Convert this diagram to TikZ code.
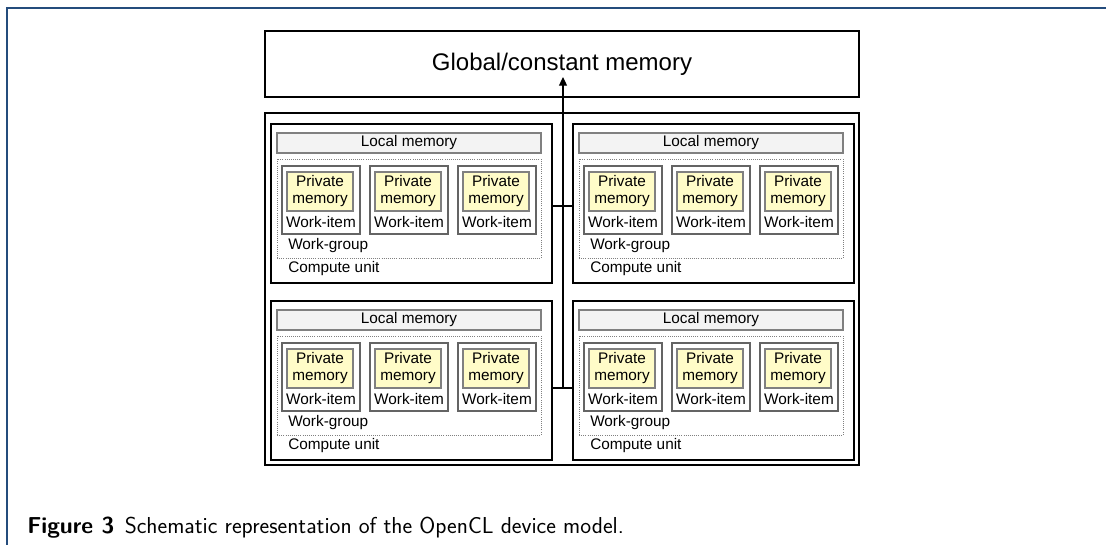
\documentclass[tikz,border=0pt]{standalone}
\usepackage{fontspec}
\newfontfamily\arial{Liberation Sans}
\usetikzlibrary{arrows.meta}
\definecolor{frameblue}{RGB}{36,76,124}
\definecolor{pmfill}{RGB}{255,252,200}
\definecolor{lmfill}{RGB}{243,243,243}
\definecolor{boxgray}{RGB}{128,128,128}
\definecolor{wigray}{RGB}{100,100,100}
\begin{document}
\begin{tikzpicture}[x=0.75pt,y=-0.75pt,
  bigbox/.style={draw=black, line width=1.6pt, inner sep=0pt, outer sep=0pt, fill=white},
  cubox/.style={draw=black, line width=1.2pt, inner sep=0pt, outer sep=0pt,
    minimum width=281*0.75pt, minimum height=159*0.75pt},
  lmbox/.style={draw=boxgray, fill=lmfill, line width=1.1pt, inner sep=0pt, outer sep=0pt,
    minimum width=264*0.75pt, minimum height=20*0.75pt, font=\arial\fontsize{11.5}{12.75}\selectfont},
  wgbox/.style={draw=boxgray, densely dotted, line width=0.6pt, inner sep=0pt, outer sep=0pt,
    minimum width=264*0.75pt, minimum height=99*0.75pt},
  wibox/.style={draw=wigray, line width=0.8pt, inner sep=0pt, outer sep=0pt,
    minimum width=78*0.75pt, minimum height=68*0.75pt},
  pmbox/.style={draw=boxgray, fill=pmfill, line width=1pt, inner sep=0pt, outer sep=0pt,
    minimum width=66*0.75pt, minimum height=39*0.75pt, align=center,
    font=\arial\fontsize{11.5}{12.75}\selectfont},
  lbl/.style={inner sep=0pt, font=\arial\fontsize{11.5}{12.75}\selectfont},
  conn/.style={draw=black, line width=0.9pt}
]
\useasboundingbox (0,0) rectangle (1106,545);
\draw[frameblue, line width=1pt] (7,545) -- (7,8) -- (1106,8);

\node[bigbox, anchor=north west, minimum width=594*0.75pt, minimum height=66*0.75pt,
  font=\arial\fontsize{18}{20}\selectfont] (global) at (265,31) {Global/constant memory};
\node[bigbox, anchor=north west, minimum width=594*0.75pt, minimum height=352*0.75pt] (device) at (265,113) {};

\foreach \i/\cx/\cy in {1/271/124, 2/573/124, 3/271/301, 4/573/301} {
  \node[cubox, anchor=north west] (cu\i) at (\cx,\cy) {};
  \node[lmbox, anchor=north west] (lm\i) at (\cx+6,\cy+9) {Local memory};
  \node[wgbox, anchor=north west] (wg\i) at (\cx+6,\cy+35) {};
  \foreach \j/\dx in {1/11,2/99,3/187} {
    \node[wibox, anchor=north west] (wi\i\j) at (\cx+\dx,\cy+42) {};
    \node[pmbox, anchor=north west] (pm\i\j) at (\cx+\dx+5,\cy+48) {Private\\memory};
    \node[lbl] (wt\i\j) at (\cx+\dx+39,\cy+98) {Work-item};
  }
  \node[lbl, anchor=west] (wgl\i) at (\cx+17,\cy+122) {Work-group};
  \node[lbl, anchor=west] (cul\i) at (\cx+17,\cy+145) {Compute unit};
}

\coordinate (jt) at (563,206);
\coordinate (jb) at (563,388);
\coordinate (gtip) at (563,77);
\draw[conn] (cu1.east |- jt) -- (cu2.west |- jt);
\draw[conn] (cu3.east |- jb) -- (cu4.west |- jb);
\draw[conn, -{Triangle[length=6.5pt,width=6pt]}] (jb) -- (gtip);

\node[anchor=base west, inner sep=0pt, font=\sffamily\fontsize{17.3}{20}\selectfont] (cap) at (27,533)
  {\textbf{Figure 3}\hspace{0.45em}Schematic representation of the OpenCL device model.};
\end{tikzpicture}
\end{document}
